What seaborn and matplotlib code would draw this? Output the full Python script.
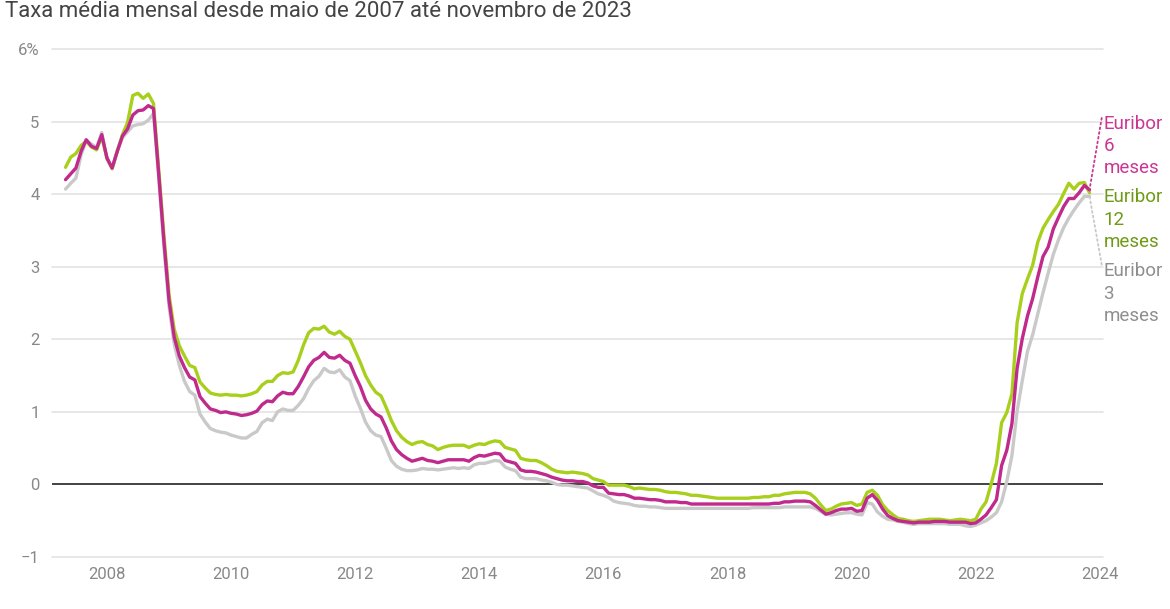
import pandas as pd
import numpy as np
import matplotlib.pyplot as plt
import seaborn as sns

# Monthly averages, May 2007 - Nov 2023 (%)
start_year = 2007
start_month = 5

euribor_3m = [
    4.07, 4.15, 4.22, 4.54, 4.74, 4.69, 4.64, 4.85,
    4.48, 4.36, 4.60, 4.78, 4.86, 4.94, 4.96, 4.97, 5.02, 5.11, 4.24, 3.29,
    2.46, 1.94, 1.64, 1.42, 1.28, 1.23, 0.97, 0.86, 0.77, 0.74, 0.72, 0.71,
    0.68, 0.66, 0.64, 0.64, 0.69, 0.73, 0.85, 0.90, 0.88, 1.00, 1.04, 1.02,
    1.02, 1.09, 1.18, 1.32, 1.43, 1.49, 1.60, 1.55, 1.54, 1.58, 1.48, 1.43,
    1.22, 1.05, 0.86, 0.74, 0.68, 0.66, 0.50, 0.33, 0.25, 0.21, 0.19, 0.19,
    0.20, 0.22, 0.21, 0.21, 0.20, 0.21, 0.22, 0.23, 0.22, 0.23, 0.22, 0.27,
    0.29, 0.29, 0.31, 0.33, 0.32, 0.24, 0.21, 0.19, 0.10, 0.08, 0.08, 0.08,
    0.06, 0.05, 0.03, 0.00, -0.01, -0.01, -0.02, -0.03, -0.04, -0.05, -0.09, -0.13,
    -0.15, -0.18, -0.23, -0.25, -0.26, -0.27, -0.29, -0.30, -0.30, -0.31, -0.31, -0.32,
    -0.33, -0.33, -0.33, -0.33, -0.33, -0.33, -0.33, -0.33, -0.33, -0.33, -0.33, -0.33,
    -0.33, -0.33, -0.33, -0.33, -0.33, -0.32, -0.32, -0.32, -0.32, -0.32, -0.32, -0.31,
    -0.31, -0.31, -0.31, -0.31, -0.31, -0.33, -0.37, -0.41, -0.42, -0.41, -0.40, -0.39,
    -0.39, -0.41, -0.42, -0.25, -0.27, -0.38, -0.44, -0.48, -0.49, -0.51, -0.52, -0.54,
    -0.55, -0.54, -0.54, -0.54, -0.54, -0.54, -0.54, -0.55, -0.55, -0.55, -0.57, -0.58,
    -0.56, -0.53, -0.50, -0.45, -0.39, -0.24, 0.04, 0.40, 1.01, 1.43, 1.83, 2.06,
    2.35, 2.64, 2.91, 3.17, 3.37, 3.54, 3.67, 3.78, 3.88, 3.97, 3.97,
]

euribor_6m = [
    4.20, 4.28, 4.36, 4.59, 4.75, 4.66, 4.63, 4.82,
    4.50, 4.36, 4.59, 4.80, 4.90, 5.09, 5.15, 5.16, 5.22, 5.18, 4.29, 3.37,
    2.54, 2.03, 1.77, 1.61, 1.48, 1.44, 1.21, 1.12, 1.04, 1.02, 0.99, 1.00,
    0.98, 0.97, 0.95, 0.96, 0.98, 1.01, 1.10, 1.15, 1.14, 1.22, 1.27, 1.25,
    1.25, 1.35, 1.48, 1.62, 1.71, 1.75, 1.82, 1.75, 1.74, 1.78, 1.71, 1.67,
    1.50, 1.35, 1.16, 1.04, 0.97, 0.93, 0.78, 0.60, 0.48, 0.41, 0.36, 0.32,
    0.34, 0.36, 0.33, 0.32, 0.30, 0.32, 0.34, 0.34, 0.34, 0.34, 0.32, 0.37,
    0.40, 0.39, 0.41, 0.43, 0.42, 0.33, 0.31, 0.29, 0.20, 0.18, 0.18, 0.17,
    0.15, 0.13, 0.10, 0.08, 0.06, 0.05, 0.05, 0.04, 0.04, 0.02, -0.02, -0.04,
    -0.04, -0.12, -0.13, -0.14, -0.14, -0.16, -0.19, -0.19, -0.20, -0.21, -0.21, -0.22,
    -0.24, -0.24, -0.24, -0.25, -0.25, -0.27, -0.27, -0.27, -0.27, -0.27, -0.27, -0.27,
    -0.27, -0.27, -0.27, -0.27, -0.27, -0.27, -0.27, -0.27, -0.27, -0.26, -0.26, -0.24,
    -0.24, -0.23, -0.23, -0.23, -0.24, -0.29, -0.35, -0.41, -0.39, -0.36, -0.34, -0.34,
    -0.33, -0.37, -0.36, -0.19, -0.14, -0.22, -0.34, -0.43, -0.47, -0.50, -0.51, -0.52,
    -0.53, -0.52, -0.52, -0.52, -0.51, -0.51, -0.51, -0.52, -0.52, -0.52, -0.52, -0.54,
    -0.53, -0.48, -0.42, -0.32, -0.21, 0.26, 0.47, 0.84, 1.60, 2.01, 2.32, 2.56,
    2.86, 3.14, 3.27, 3.52, 3.68, 3.83, 3.94, 3.94, 4.02, 4.12, 4.06,
]

euribor_12m = [
    4.37, 4.51, 4.56, 4.67, 4.73, 4.65, 4.61, 4.79,
    4.50, 4.35, 4.59, 4.82, 4.99, 5.36, 5.39, 5.32, 5.38, 5.25, 4.35, 3.45,
    2.62, 2.14, 1.91, 1.77, 1.64, 1.61, 1.41, 1.33, 1.26, 1.24, 1.23, 1.24,
    1.23, 1.23, 1.22, 1.23, 1.25, 1.28, 1.37, 1.42, 1.42, 1.50, 1.54, 1.53,
    1.55, 1.71, 1.92, 2.09, 2.15, 2.14, 2.18, 2.10, 2.07, 2.11, 2.04, 2.00,
    1.84, 1.68, 1.50, 1.37, 1.27, 1.22, 1.06, 0.88, 0.74, 0.65, 0.59, 0.55,
    0.58, 0.59, 0.55, 0.53, 0.48, 0.51, 0.53, 0.54, 0.54, 0.54, 0.51, 0.54,
    0.56, 0.55, 0.58, 0.60, 0.59, 0.51, 0.49, 0.47, 0.36, 0.34, 0.33, 0.33,
    0.30, 0.26, 0.21, 0.18, 0.17, 0.16, 0.17, 0.16, 0.15, 0.13, 0.08, 0.06,
    0.04, -0.01, -0.01, -0.01, -0.01, -0.03, -0.06, -0.05, -0.06, -0.07, -0.07, -0.08,
    -0.10, -0.11, -0.11, -0.12, -0.13, -0.15, -0.15, -0.16, -0.17, -0.18, -0.19, -0.19,
    -0.19, -0.19, -0.19, -0.19, -0.19, -0.18, -0.18, -0.17, -0.17, -0.15, -0.15, -0.13,
    -0.12, -0.11, -0.11, -0.11, -0.13, -0.19, -0.28, -0.36, -0.34, -0.30, -0.27, -0.26,
    -0.25, -0.29, -0.27, -0.11, -0.08, -0.15, -0.28, -0.36, -0.42, -0.47, -0.48, -0.50,
    -0.51, -0.50, -0.49, -0.48, -0.48, -0.48, -0.49, -0.50, -0.49, -0.48, -0.49, -0.50,
    -0.48, -0.34, -0.24, 0.01, 0.29, 0.85, 0.99, 1.25, 2.23, 2.63, 2.83, 3.02,
    3.34, 3.53, 3.65, 3.76, 3.86, 4.01, 4.15, 4.07, 4.15, 4.16, 4.02,
]

y_ticks = [-1, 0, 1, 2, 3, 4, 5, 6]
y_tick_labels = ['\u22121', '0', '1', '2', '3', '4', '5', '6%']
x_ticks = [2008, 2010, 2012, 2014, 2016, 2018, 2020, 2022, 2024]

series_names = ['Euribor 3 meses', 'Euribor 12 meses', 'Euribor 6 meses']
line_colors = {'Euribor 3 meses': '#c9c9c9',
               'Euribor 12 meses': '#a8cf1c',
               'Euribor 6 meses': '#bf2a8c'}

# long-form table
n = len(euribor_3m)
months = start_year + (start_month - 1) / 12 + np.arange(n) / 12
df = pd.concat([
    pd.DataFrame({'ano': months, 'taxa': euribor_3m, 'serie': 'Euribor 3 meses'}),
    pd.DataFrame({'ano': months, 'taxa': euribor_12m, 'serie': 'Euribor 12 meses'}),
    pd.DataFrame({'ano': months, 'taxa': euribor_6m, 'serie': 'Euribor 6 meses'}),
])

sns.set_theme(style="white")
plt.rcParams['font.family'] = ['Roboto', 'DejaVu Sans']

fig = plt.figure(figsize=(11.7, 6.09), dpi=100)
ax = fig.add_axes([0.0444, 0.0854, 0.8983, 0.8341])

ax.set_ylim(-1, 6)
ax.set_xlim(2007.114, 2024.05)
for v in y_ticks:
    if v != 0:
        ax.axhline(v, color='#e3e3e3', lw=1.2, zorder=0, clip_on=False)
ax.axhline(0, color='#222222', lw=1.2, zorder=1)

sns.lineplot(data=df, x='ano', y='taxa', hue='serie', hue_order=series_names,
             palette=line_colors, linewidth=2.4, legend=False, ax=ax,
             clip_on=False)

sns.despine(ax=ax, left=True, bottom=True)
ax.set_xlabel('')
ax.set_ylabel('')
ax.set_yticks(y_ticks)
ax.set_yticklabels(y_tick_labels)
ax.set_xticks(x_ticks)
ax.set_xticklabels([str(x) for x in x_ticks])
ax.tick_params(axis='both', length=0, labelsize=12, labelcolor='#888888')
ax.tick_params(axis='y', pad=9)
ax.tick_params(axis='x', pad=7)

# series labels on the right
last_x = months[-1]
lab_x = 2024.06
ax.annotate('', xy=(last_x, euribor_6m[-1]), xytext=(lab_x - 0.03, 5.05),
            arrowprops=dict(arrowstyle='-', ls=':', lw=1.3, color='#c9388f',
                            shrinkA=0, shrinkB=0), annotation_clip=False)
ax.annotate('', xy=(last_x, euribor_3m[-1]), xytext=(lab_x - 0.03, 3.03),
            arrowprops=dict(arrowstyle='-', ls=':', lw=1.3, color='#c8c8c8',
                            shrinkA=0, shrinkB=0), annotation_clip=False)
label_kw = dict(fontsize=13.5, va='top', ha='left', linespacing=1.3, clip_on=False)
ax.text(lab_x, 5.09, 'Euribor\n6\nmeses', color='#cc3592', **label_kw)
ax.text(lab_x, 4.08, 'Euribor\n12\nmeses', color='#6f9a16', **label_kw)
ax.text(lab_x, 3.06, 'Euribor\n3\nmeses', color='#8e8e8e', **label_kw)

fig.text(0.004, 0.998, 'Taxa média mensal desde maio de 2007 até novembro de 2023',
         fontsize=16, color='#444444', va='top', ha='left')

fig.savefig('out.png', dpi=100)
